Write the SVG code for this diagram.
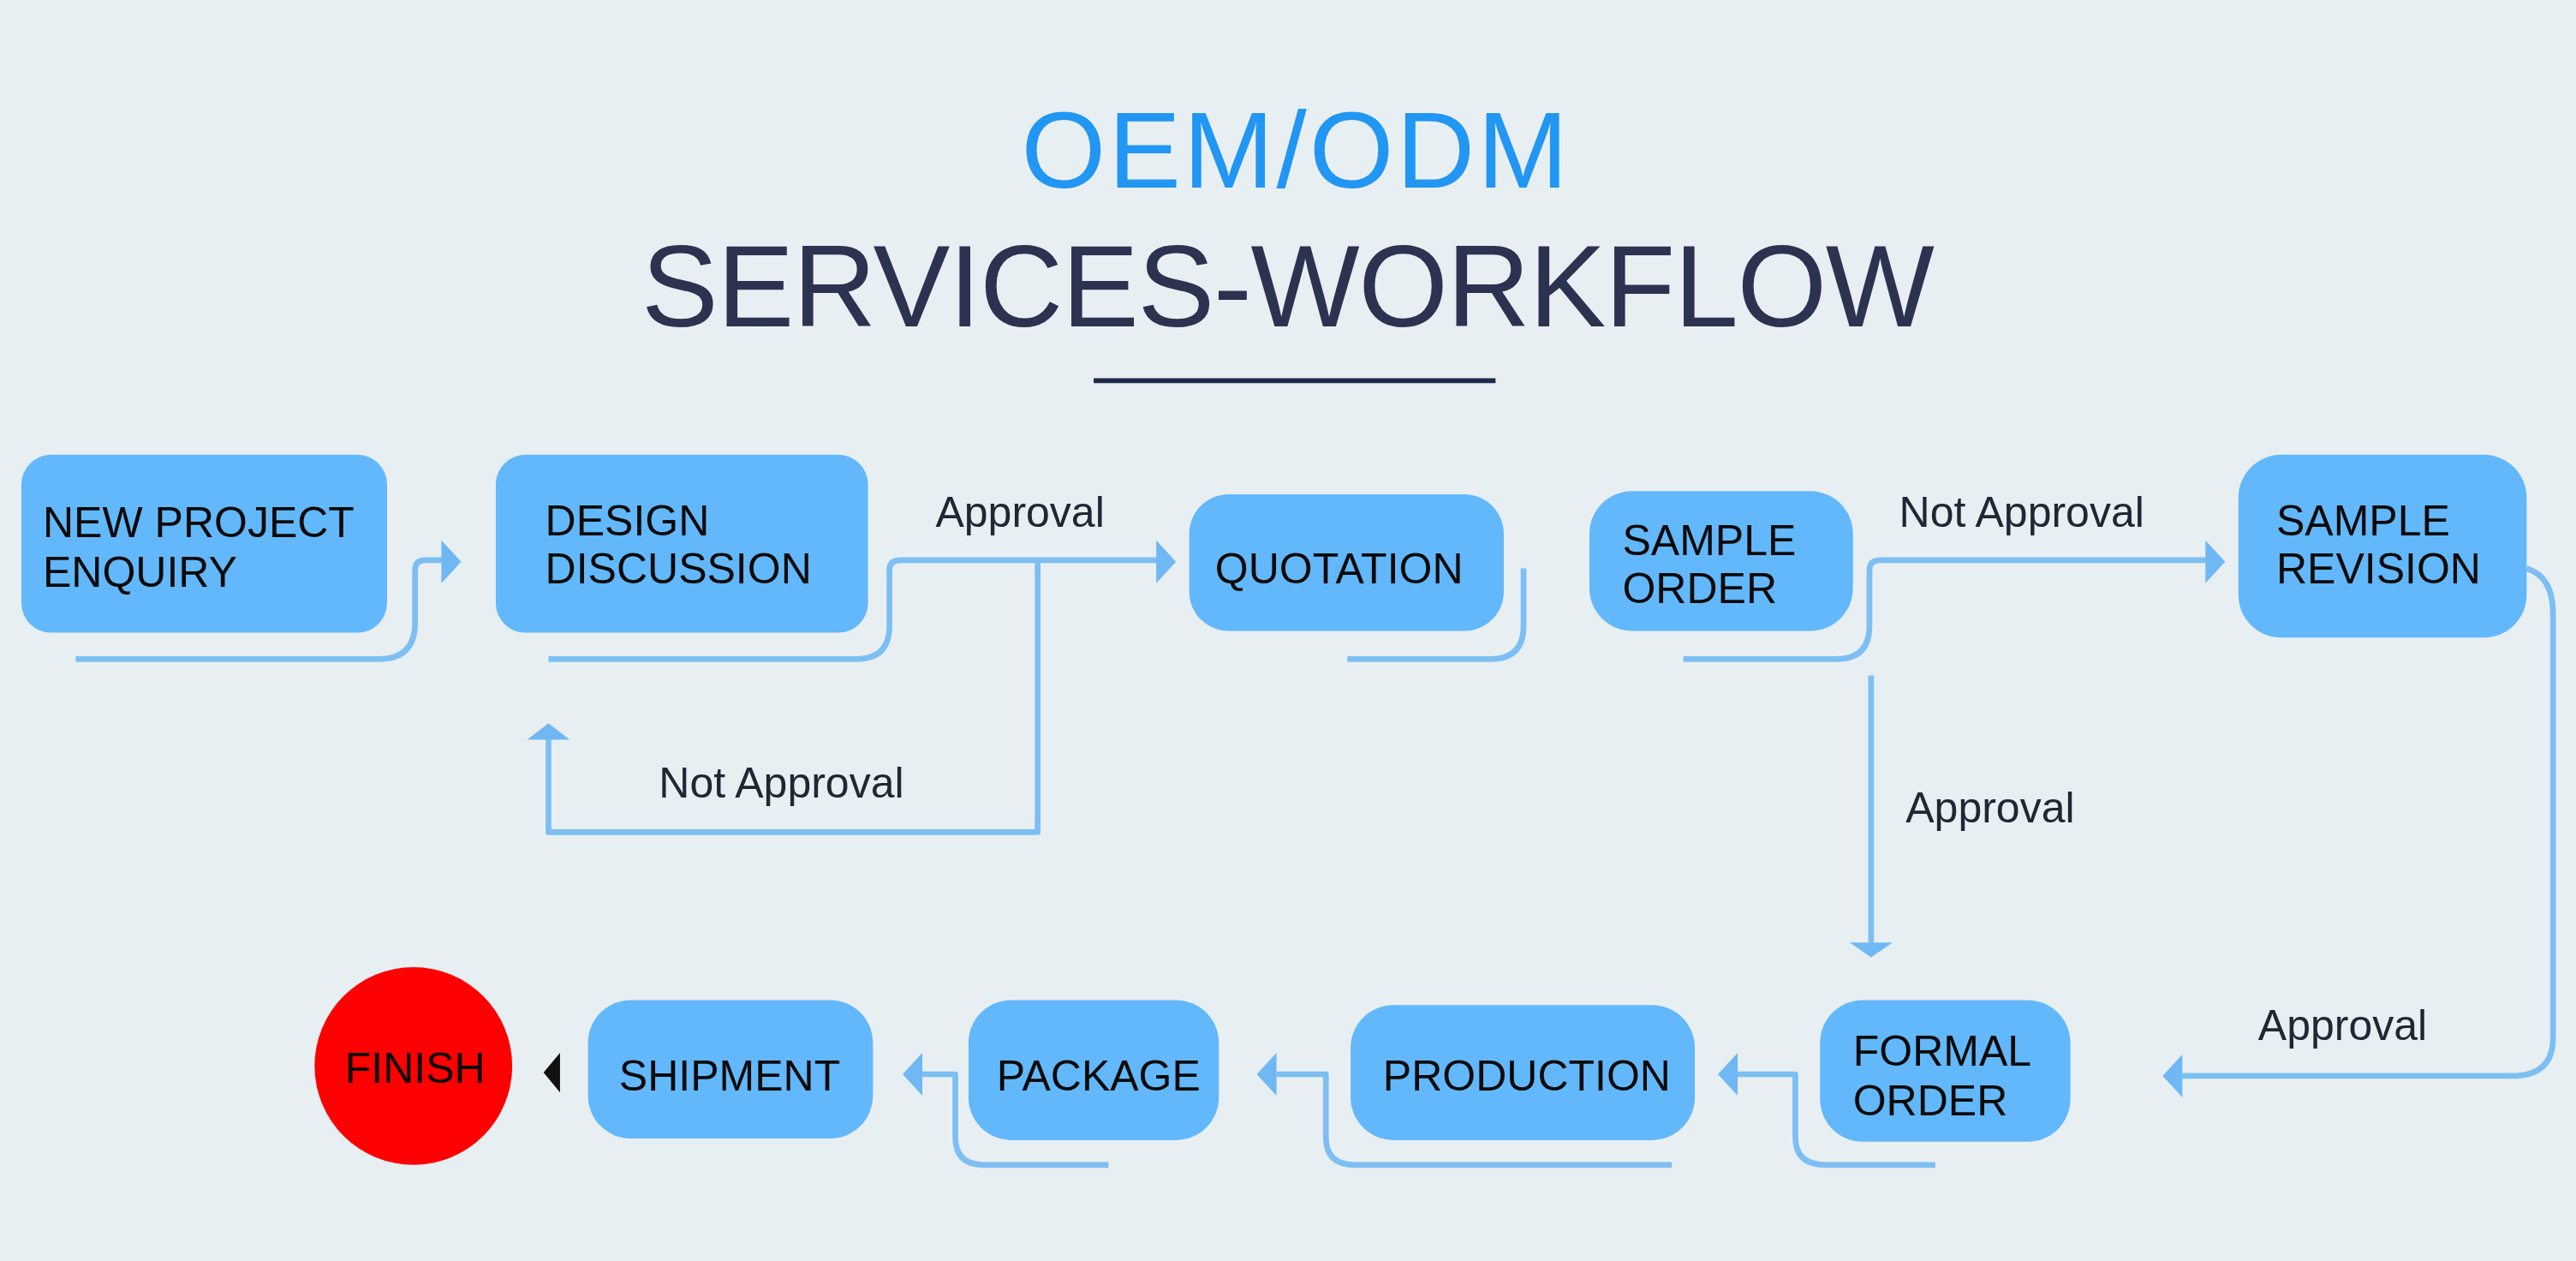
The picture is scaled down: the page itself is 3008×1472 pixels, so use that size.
<svg xmlns="http://www.w3.org/2000/svg" width="3008" height="1472" viewBox="0 0 3008 1472">
<defs>
<style>
.box{fill:#62b8fa}
.t{font-family:"Liberation Sans",Arial,sans-serif;font-size:26px;fill:#0a0a0a}
.lbl{font-family:"Liberation Sans",Arial,sans-serif;font-size:26px;fill:#222634}
.ln{fill:none;stroke:#7dbff2;stroke-width:3.5;stroke-linejoin:round}
.ah{fill:#6fb8f3}
</style>
</defs>
<rect width="3008" height="1472" fill="#e8eff3"/>
<g transform="scale(1.9233)">
<g id="title">
<text x="786" y="114" text-anchor="middle" font-family="Liberation Sans,Arial,sans-serif" font-size="66" fill="#2196f3" textLength="332">OEM/ODM</text>
<text x="782" y="198" text-anchor="middle" font-family="Liberation Sans,Arial,sans-serif" font-size="70" fill="#2b3350" textLength="785">SERVICES-WORKFLOW</text>
<line x1="664" y1="231" x2="908" y2="231" stroke="#1f2a4a" stroke-width="3"/>
</g>
<g id="connectors">
<path class="ln" d="M46,400 H230 Q252,400 252,378 V346 Q252,340 258,340 H270"/>
<polygon class="ah" points="268,328 280,341 268,354"/>
<path class="ln" d="M333,400 H520 Q540,400 540,380 V346 Q540,340 547,340 H703"/>
<polygon class="ah" points="702,328 714,341 702,354"/>
<path class="ln" d="M630,340 V505 H333 V448"/>
<polygon class="ah" points="320,449 333,439 346,449"/>
<path class="ln" d="M818,400 H905 Q925,400 925,380 V345"/>
<path class="ln" d="M1022,400 H1115 Q1135,400 1135,380 V346 Q1135,340 1142,340 H1340"/>
<polygon class="ah" points="1339,328 1351,341 1339,354"/>
<path class="ln" d="M1136,410 V572"/>
<polygon class="ah" points="1123,572 1149,572 1136,581"/>
<path class="ln" d="M1534,345 Q1550,350 1550,372 V630 Q1550,653 1525,653 H1325"/>
<polygon class="ah" points="1325,640 1313,653 1325,666"/>
<path class="ln" d="M1175,707 H1108 Q1090,707 1090,690 V652 H1055"/>
<polygon class="ah" points="1055,639 1043,652 1055,665"/>
<path class="ln" d="M1015,707 H822 Q805,707 805,690 V652 H775"/>
<polygon class="ah" points="775,639 763,652 775,665"/>
<path class="ln" d="M673,707 H597 Q580,707 580,690 V652 H560"/>
<polygon class="ah" points="560,639 548,652 560,665"/>
<polygon points="340,639 330,651 340,663" fill="#111"/>
<text class="lbl" x="568" y="320">Approval</text>
<text class="lbl" x="400" y="484">Not Approval</text>
<text class="lbl" x="1153" y="320">Not Approval</text>
<text class="lbl" x="1157" y="499">Approval</text>
<text class="lbl" x="1371" y="631">Approval</text>
</g>
<g id="n1"><rect class="box" x="13" y="276" width="222" height="108" rx="18"/><text class="t" x="26" y="326">NEW PROJECT</text><text class="t" x="26" y="356">ENQUIRY</text></g>
<g id="n2"><rect class="box" x="301" y="276" width="226" height="108" rx="18"/><text class="t" x="331" y="325">DESIGN</text><text class="t" x="331" y="354">DISCUSSION</text></g>
<g id="n3"><rect class="box" x="722" y="300" width="191" height="83" rx="24"/><text class="t" x="813" y="354" text-anchor="middle">QUOTATION</text></g>
<g id="n4"><rect class="box" x="965" y="298" width="160" height="85" rx="26"/><text class="t" x="985" y="337">SAMPLE</text><text class="t" x="985" y="366">ORDER</text></g>
<g id="n5"><rect class="box" x="1359" y="276" width="175" height="111" rx="26"/><text class="t" x="1382" y="325">SAMPLE</text><text class="t" x="1382" y="354">REVISION</text></g>
<g id="n6"><rect class="box" x="1105" y="607" width="152" height="86" rx="26"/><text class="t" x="1125" y="647">FORMAL</text><text class="t" x="1125" y="677">ORDER</text></g>
<g id="n7"><rect class="box" x="820" y="610" width="209" height="82" rx="26"/><text class="t" x="927" y="662" text-anchor="middle">PRODUCTION</text></g>
<g id="n8"><rect class="box" x="588" y="607" width="152" height="85" rx="26"/><text class="t" x="667" y="662" text-anchor="middle">PACKAGE</text></g>
<g id="n9"><rect class="box" x="357" y="607" width="173" height="84" rx="26"/><text class="t" x="443" y="662" text-anchor="middle">SHIPMENT</text></g>
<g id="n10"><circle cx="251" cy="647" r="60" fill="#fe0000"/><text class="t" x="252" y="657" text-anchor="middle" font-size="24">FINISH</text></g>
</g>
</svg>
